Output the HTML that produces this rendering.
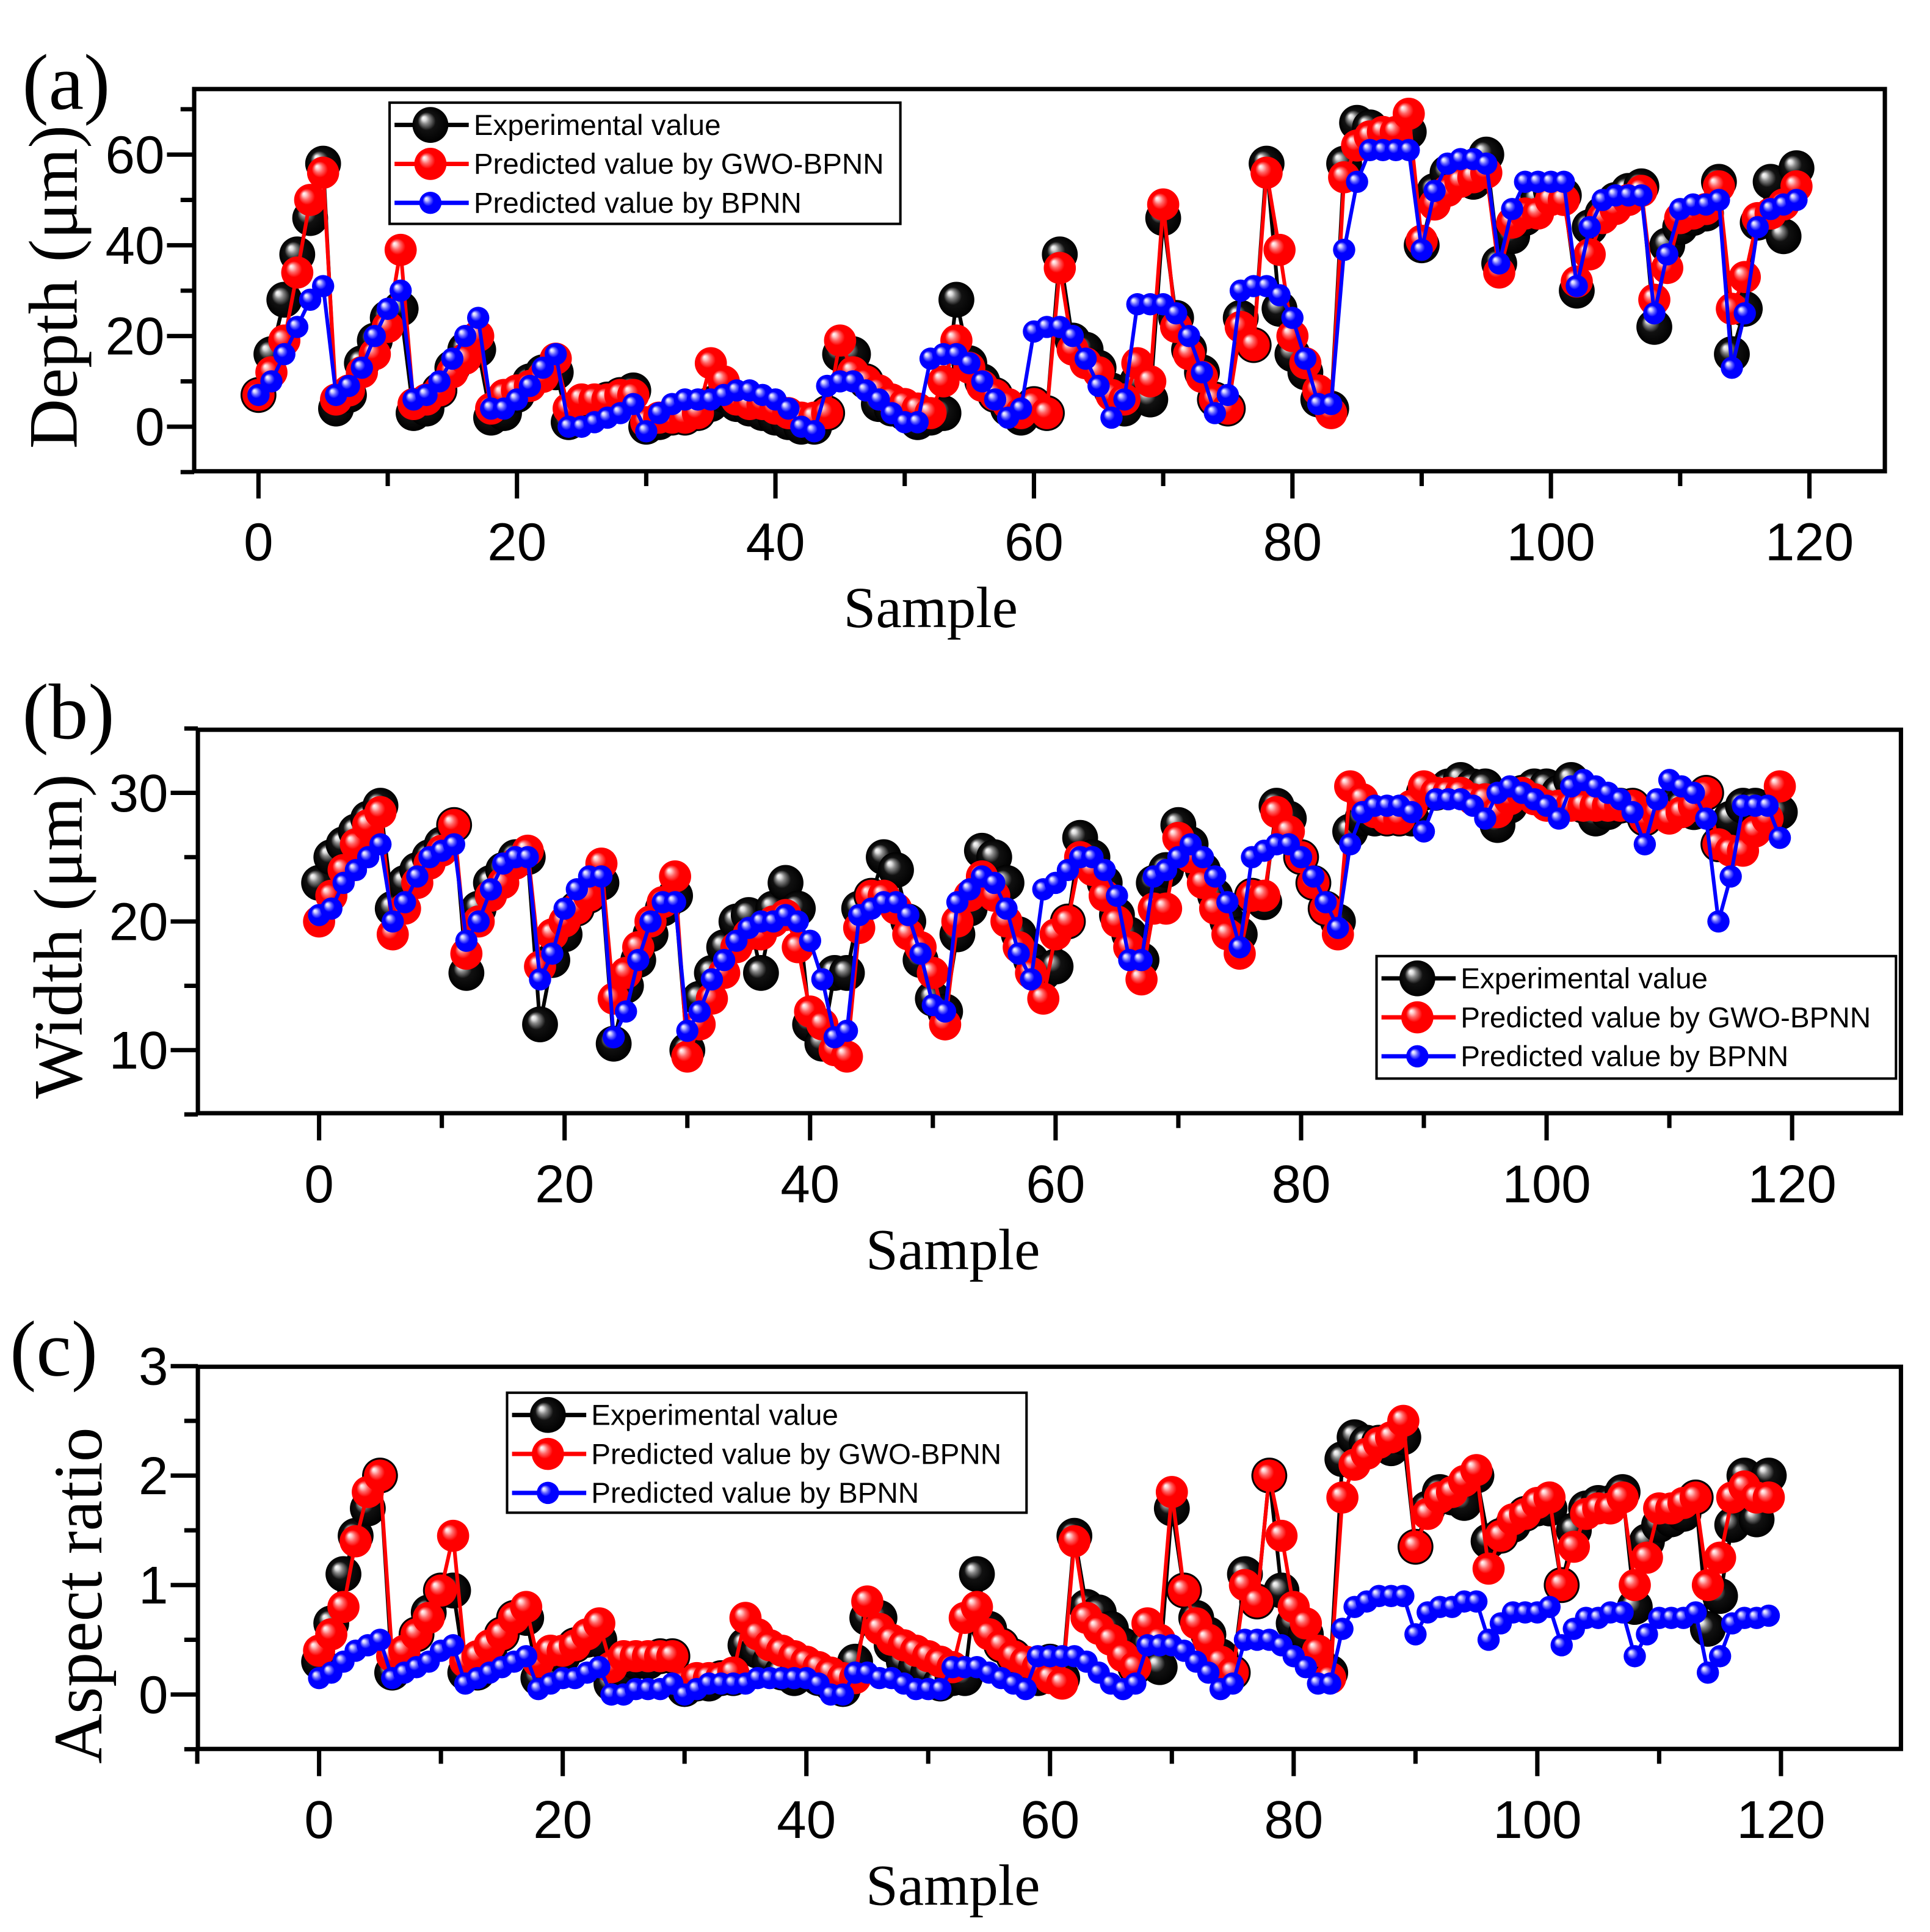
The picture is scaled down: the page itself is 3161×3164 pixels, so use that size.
<!DOCTYPE html>
<html><head><meta charset="utf-8"><style>html,body{margin:0;padding:0;background:#fff}svg{display:block}</style></head>
<body>
<svg id="fig" width="3161" height="3164" viewBox="0 0 1560.5 1562" preserveAspectRatio="none" xmlns="http://www.w3.org/2000/svg">
<defs>
<radialGradient id="gk" cx="0.5" cy="0.5" r="0.5" fx="0.3" fy="0.3"><stop offset="0" stop-color="#fff"/><stop offset="0.12" stop-color="#ddd"/><stop offset="0.25" stop-color="#888"/><stop offset="0.5" stop-color="#111"/><stop offset="1" stop-color="#000"/></radialGradient>
<radialGradient id="gr" cx="0.5" cy="0.5" r="0.5" fx="0.3" fy="0.3"><stop offset="0" stop-color="#fff"/><stop offset="0.12" stop-color="#fcc"/><stop offset="0.28" stop-color="#f66"/><stop offset="0.5" stop-color="#f00"/><stop offset="1" stop-color="#f00"/></radialGradient>
<radialGradient id="gb" cx="0.5" cy="0.5" r="0.5" fx="0.3" fy="0.3"><stop offset="0" stop-color="#fff"/><stop offset="0.14" stop-color="#ccf"/><stop offset="0.3" stop-color="#66f"/><stop offset="0.5" stop-color="#00f"/><stop offset="1" stop-color="#00f"/></radialGradient>
</defs>
<g id="root"></g>
</svg>
<script>
const aExp=[7,16,28,38,46,58,4,7,14,19,24,26,3,4,8,13,17,17,2,3,7,10,12,12,1,3,5,6,7,8,0,1,2,2,3,5,7,5,4,3,2,1,0,0,3,16,16,10,5,4,3,1,2,3,28,14,10,7,4,2,5,3,38,19,17,13,8,4,10,6,46,24,17,12,6,4,24,18,58,26,16,12,6,4,58,67,66,64,63,65,40,52,56,56,54,60,36,42,46,50,52,51,30,44,47,50,52,53,22,40,44,46,47,54,16,26,45,54,42,57];
const aGwo=[7,12,19,34,50,56,6,8,12,16,22,39,5,6,8,12,15,20,4,7,8,9,11,15,4,6,6,6,7,7,1,2,2,2,3,14,10,6,5,5,4,3,2,2,3,19,12,10,8,6,5,4,3,10,19,13,9,7,5,3,5,3,35,17,14,12,7,6,14,10,49,22,16,11,6,4,22,18,56,39,20,14,8,3,55,62,64,65,65,69,41,49,52,54,55,56,34,45,47,47,50,50,32,38,46,48,50,52,28,35,46,47,48,53,26,33,46,47,49,53];
const aBp=[7,10,16,22,28,31,7,9,13,20,26,30,6,7,10,15,20,24,4,4,6,9,13,16,0,0,1,2,3,5,-1,3,5,6,6,6,7,8,8,7,6,4,0,-1,9,10,10,8,6,3,1,1,15,16,16,14,10,6,2,4,21,22,22,20,15,9,2,6,27,27,27,25,20,12,3,7,30,31,31,29,24,15,5,5,39,54,61,61,61,61,39,52,58,59,59,58,36,48,54,54,54,54,31,44,50,51,51,51,25,38,48,49,49,50,13,25,44,48,49,50];
const bExp=[23,25,26,27,28,29,21,23,24,25,26,27.5,16,21,23,24,25,25,12,17,19,21,22,23,10.5,15,17,19,21,22,10,14,16,18,20,20.5,16,21,23,21,12,10.5,16,16,21,22,25,24,20,17,14,13,19,21,25.5,25,23,19,17,16,16.5,20,26.5,25,23,20.5,19,17,23,24,27.5,26,24,22,20,19,22,21.5,29,28,25,23,21,20,27,28,28,28,28,28,30,30,30.5,31,30.5,30.5,27.5,29,30,30.5,30.5,30,31,29,28,28.5,29,29,28,28.5,29,29,28.5,30,26,28,29,29,28,28.5];
const bGwo=[20,22,24,26,27.5,28.5,19,21,23,24.5,25.5,27.5,17.5,20,22,23,24.5,25.5,16.5,19,20,21,22,24.5,14,16,18,20,21.5,23.5,9.5,12,14,16,18,19,19,20,20.5,18,13,12,10,9.5,19.5,22,22,21,19,18,16,12,20,22,23.5,22,20,18,16,14,19,20,25,24,22,20,18,15.5,21,21,26.5,25,23,21,19,17.5,22,22,28.5,27,25,23,21,19,30.5,29.5,28.5,28,28,29,30.5,30,30,30,29.5,29.5,28.5,29.5,30,29.5,29,29,29,29,29,29,29,29,28,28.5,28,28.5,29,30,26,25.5,25.5,27,28,30.5];
const bBp=[20.5,21,23,24,25,26,20,21.5,23.5,25,25.5,26,18.5,20,22.5,24.5,25,25,15.5,17.5,21,22.5,23.5,23.5,11,13,17,20,21.5,21.5,11.5,13,15.5,17,18.5,19.5,20,20,20.5,20,18.5,15.5,11,11.5,20.5,21,21.5,21.5,20.5,17.5,13.5,13,21.5,22.5,23.5,23,21,17.5,15.5,22.5,23,24,25,25,24,22,17,17,23.5,24,25,26,25,23.5,21.5,18,25,25.5,26,26,25,23.5,21.5,19.5,26,28.5,29,29,29,28.5,27,29.5,29.5,29.5,29,28,30,30.5,30,29.5,29,28,30.5,31,30.5,30,29.5,28.5,26,29.5,31,30.5,30,28,20,23.5,29,29,29,26.5];
const cExp=[0.3,0.65,1.1,1.45,1.7,2.0,0.2,0.3,0.55,0.75,0.95,0.95,0.2,0.2,0.35,0.55,0.7,0.7,0.15,0.2,0.35,0.45,0.5,0.5,0.1,0.2,0.3,0.3,0.35,0.35,0.05,0.1,0.1,0.15,0.15,0.45,0.4,0.3,0.2,0.15,0.2,0.15,0.1,0.05,0.3,0.7,0.7,0.45,0.3,0.25,0.2,0.1,0.15,0.15,1.1,0.6,0.45,0.35,0.25,0.15,0.3,0.15,1.45,0.8,0.75,0.6,0.45,0.25,0.45,0.25,1.7,0.95,0.7,0.55,0.35,0.2,1.1,0.85,2.0,0.95,0.65,0.55,0.3,0.2,2.15,2.35,2.3,2.3,2.25,2.35,1.35,1.7,1.85,1.8,1.75,2.0,1.4,1.45,1.55,1.65,1.7,1.7,1.0,1.5,1.7,1.75,1.75,1.85,0.8,1.4,1.55,1.6,1.65,1.8,0.6,0.9,1.55,2.0,1.6,2.0];
const cGwo=[0.4,0.55,0.8,1.4,1.85,2.0,0.35,0.4,0.55,0.7,0.95,1.45,0.3,0.35,0.45,0.55,0.7,0.8,0.3,0.4,0.4,0.45,0.55,0.65,0.25,0.35,0.35,0.35,0.35,0.35,0.1,0.15,0.15,0.15,0.2,0.7,0.55,0.45,0.4,0.35,0.3,0.25,0.2,0.15,0.15,0.85,0.6,0.5,0.45,0.4,0.35,0.3,0.25,0.7,0.8,0.55,0.45,0.35,0.3,0.25,0.15,0.1,1.4,0.7,0.6,0.5,0.35,0.25,0.65,0.5,1.85,0.95,0.65,0.5,0.3,0.2,1.0,0.85,2.0,1.45,0.8,0.65,0.4,0.15,1.8,2.1,2.2,2.3,2.35,2.5,1.35,1.65,1.8,1.85,1.95,2.05,1.15,1.45,1.6,1.65,1.75,1.8,1.0,1.35,1.65,1.7,1.7,1.8,1.0,1.25,1.7,1.7,1.75,1.8,1.0,1.25,1.8,1.9,1.8,1.8];
const cBp=[0.15,0.2,0.3,0.4,0.45,0.5,0.15,0.2,0.25,0.3,0.4,0.45,0.1,0.15,0.2,0.25,0.3,0.35,0.05,0.1,0.15,0.15,0.2,0.25,0,0,0.05,0.05,0.05,0.1,0,0.05,0.1,0.1,0.1,0.1,0.15,0.15,0.15,0.15,0.15,0.1,0,0,0.2,0.2,0.15,0.15,0.1,0.05,0.05,0.05,0.25,0.25,0.25,0.2,0.15,0.1,0.05,0.35,0.35,0.35,0.35,0.3,0.2,0.1,0.05,0.1,0.45,0.45,0.45,0.4,0.3,0.2,0.05,0.1,0.5,0.5,0.5,0.45,0.35,0.25,0.1,0.1,0.6,0.8,0.85,0.9,0.9,0.9,0.55,0.75,0.8,0.8,0.85,0.85,0.5,0.65,0.75,0.75,0.75,0.8,0.45,0.6,0.7,0.7,0.75,0.75,0.35,0.55,0.7,0.7,0.7,0.75,0.2,0.35,0.65,0.7,0.7,0.72];
const xTicks=[0,20,40,60,80,100,120];
const aYTicks=[0,20,40,60];
const bYTicks=[10,20,30];
const cYTicks=[0,1,2,3];
const legendLabels=["Experimental value","Predicted value by GWO-BPNN","Predicted value by BPNN"];

const NS="http://www.w3.org/2000/svg";
const root=document.getElementById('root');
function mk(tag,attrs,parent){const e=document.createElementNS(NS,tag);for(const k in attrs)e.setAttribute(k,attrs[k]);(parent||root).appendChild(e);return e;}

const panels=[
 {id:'a',L:157,T:72,R:1524,B:381,x0:209,xs:10.45,y0:345,yv:0,ys:3.667,ymin:-10,ymax:70,yminor:10,yt:aYTicks,data:[aExp,aGwo,aBp],title:'Depth (\u03bcm)',tx:62,tcy:232,lx:315,ly:83,lw:413,lh:98,letter:'(a)',letX:18,letY:88},
 {id:'b',L:160,T:590,R:1537,B:900,x0:258,xs:9.925,y0:849,yv:10,ys:10.4,ymin:5,ymax:35,yminor:5,yt:bYTicks,data:[bExp,bGwo,bBp],title:'Width (\u03bcm)',tx:66,tcy:757,lx:1113,ly:773,lw:420,lh:99,letter:'(b)',letX:18,letY:597},
 {id:'c',L:160,T:1105,R:1537,B:1414,x0:258,xs:9.85,y0:1370,yv:0,ys:88.5,ymin:-0.5,ymax:3,yminor:0.5,yt:cYTicks,data:[cExp,cGwo,cBp],title:'Aspect ratio',tx:82,tcy:1290,lx:410,ly:1126,lw:420,lh:97,letter:'(c)',letX:8,letY:1112}
];
const styles=[{c:'#000',g:'url(#gk)',r:14.5,n:'experimental'},{c:'#f00',g:'url(#gr)',r:13,n:'gwo-bpnn'},{c:'#00f',g:'url(#gb)',r:9,n:'bpnn'}];

panels.forEach(p=>{
 const g=mk('g',{});
 
 
 const X=v=>p.x0+v*p.xs, Y=v=>p.y0-(v-p.yv)*p.ys;
 p.data.forEach((arr,si)=>{
  const s=styles[si];
  const sg=mk('g',{},g);
  
  
  const pts=arr.map((v,i)=>X(i).toFixed(1)+','+Y(v).toFixed(1)).join(' ');
  const pl=mk('polyline',{points:pts,fill:'none',stroke:s.c,'stroke-width':3,'stroke-linejoin':'round'},sg);
  
  
  arr.forEach((v,i)=>{
   const c=mk('circle',{cx:X(i),cy:Y(v),r:s.r,fill:s.g},sg);
   
   
  });
 });
 const fr=mk('rect',{x:p.L,y:p.T,width:p.R-p.L,height:p.B-p.T,fill:'none',stroke:'#000','stroke-width':3.5},g);
 
 
 for(let v=-10;v<=130;v+=10){const x=X(v);if(x<p.L-1||x>p.R+1)continue;const major=v%20===0;
  const t=mk('line',{x1:x,x2:x,y1:p.B,y2:p.B+(major?22:12),stroke:'#000','stroke-width':3.5},g);
  
  }
 xTicks.forEach(v=>{const t=mk('text',{x:X(v),y:p.B+72,'text-anchor':'middle','font-family':'Liberation Sans, sans-serif','font-size':43},g);t.textContent=v;
  
  });
 for(let v=p.ymin;v<=p.ymax+1e-9;v+=p.yminor){const y=Y(v);if(y<p.T-1||y>p.B+1)continue;
  const major=p.yt.some(t=>Math.abs(t-v)<1e-9);
  const t=mk('line',{x1:p.L-(major?22:11),x2:p.L,y1:y,y2:y,stroke:'#000','stroke-width':3.5},g);
  
  }
 p.yt.forEach(v=>{const t=mk('text',{x:p.L-24,y:Y(v)+15,'text-anchor':'end','font-family':'Liberation Sans, sans-serif','font-size':43},g);t.textContent=v;
  
  });
 const xt=mk('text',{x:(p.L+p.R)/2-(p.id==='a'?88:78),y:p.B+126,'text-anchor':'middle','font-family':'Liberation Serif, serif','font-size':47},g);xt.textContent='Sample';
 
 
 const yt=mk('text',{x:0,y:0,'text-anchor':'middle','font-family':'Liberation Serif, serif','font-size':56,transform:`translate(${p.tx},${p.tcy}) rotate(-90)`},g);yt.textContent=p.title;
 
 
 const lt=mk('text',{x:p.letX,y:p.letY,'font-family':'Liberation Serif, serif','font-size':64},g);lt.textContent=p.letter;
 
 
 const lg=mk('g',{},g);
 
 
 mk('rect',{x:p.lx,y:p.ly,width:p.lw,height:p.lh,fill:'#fff',stroke:'#000','stroke-width':2},lg);
 styles.forEach((s,i)=>{const y=p.ly+18+i*31.5;
  const e=mk('g',{},lg);
  
  
  mk('line',{x1:p.lx+4,x2:p.lx+64,y1:y,y2:y,stroke:s.c,'stroke-width':3.5},e);
  mk('circle',{cx:p.lx+33,cy:y,r:s.r,fill:s.g},e);
  const t=mk('text',{x:p.lx+68,y:y+8,'font-family':'Liberation Sans, sans-serif','font-size':23.5},e);t.textContent=legendLabels[i];});
});
</script>
</body></html>
